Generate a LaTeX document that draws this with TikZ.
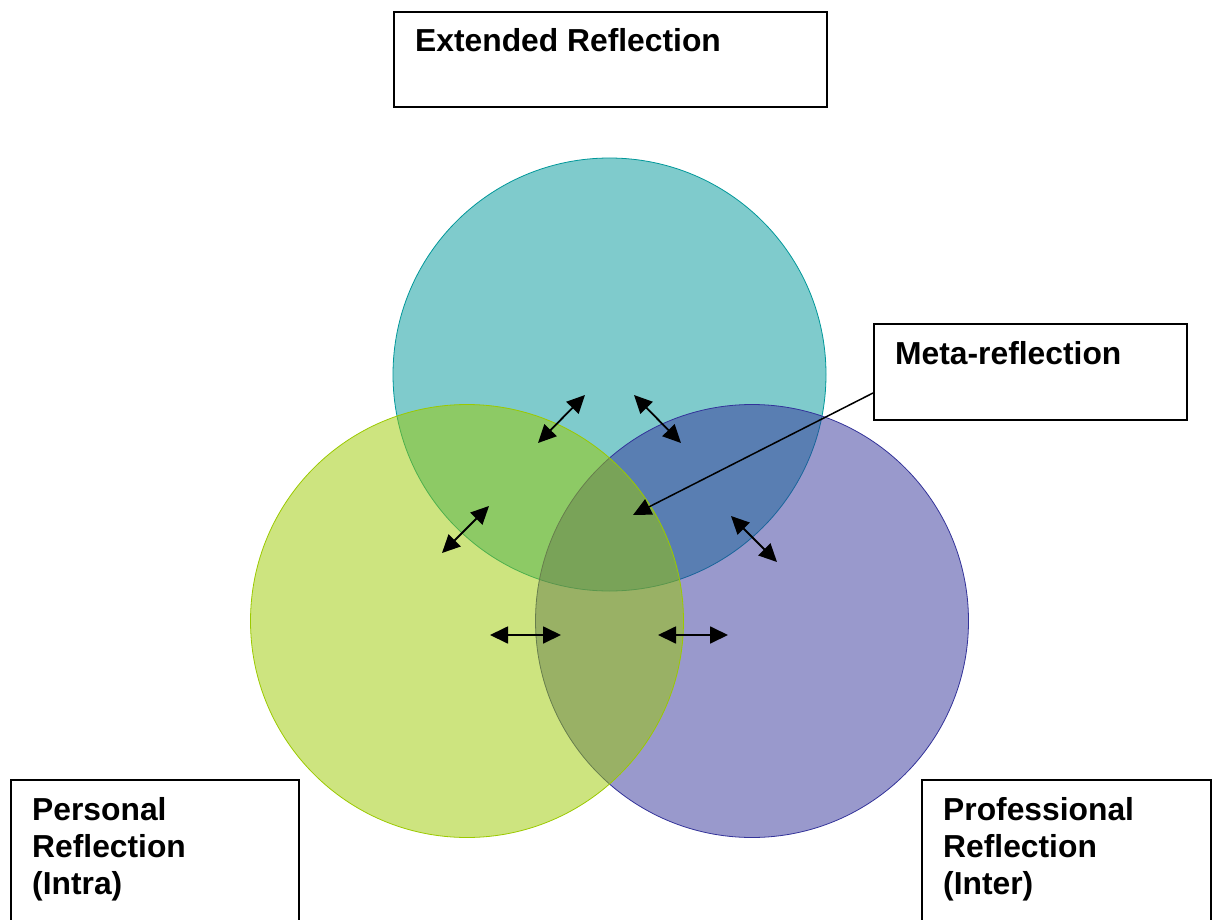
\documentclass[tikz,border=0pt]{standalone}
\usepackage{fontspec}
\setmainfont{Liberation Sans}
\usetikzlibrary{arrows.meta}
\definecolor{extcol}{RGB}{0,151,153}
\definecolor{perscol}{RGB}{155,201,0}
\definecolor{profcol}{RGB}{51,51,153}
\tikzset{
  ring/.style={circle, minimum size=433pt, inner sep=0pt, fill opacity=0.5, line width=0.8pt},
  labelbox/.style={draw, line width=1.6pt, inner sep=0pt, anchor=north west},
  boxtext/.style={anchor=base west, align=left, inner sep=0pt, xshift=22pt,
    font=\fontsize{31.8}{37}\selectfont\bfseries},
  twoway/.style={{Triangle[length=18pt,width=17pt]}-{Triangle[length=18pt,width=17pt]}, line width=1.8pt},
}
\begin{document}
\begin{tikzpicture}[x=1pt, y=-1pt]
    \useasboundingbox (0,0) rectangle (1217,920);

    % Circles
    \node[ring, fill=extcol, draw=extcol] (extended) at (609.5,374.5) {};
    \node[ring, fill=profcol, draw=profcol] (professional) at (752,621) {};
    \node[ring, fill=perscol, draw=perscol] (personal) at (467,621) {};

    % Label boxes
    \node[labelbox, minimum width=433pt, minimum height=95pt] (extbox) at (393,11) {};
    \node[boxtext, yshift=-41pt] (exttext) at (extbox.north west) {Extended Reflection};

    \node[labelbox, minimum width=313pt, minimum height=96pt] (metabox) at (873,323) {};
    \node[boxtext, yshift=-41pt] (metatext) at (metabox.north west) {Meta-reflection};

    \node[labelbox, minimum width=288pt, minimum height=170pt] (persbox) at (10,779) {};
    \node[boxtext, yshift=-115pt] (perstext) at (persbox.north west) {Personal\\Reflection\\(Intra)};

    \node[labelbox, minimum width=289pt, minimum height=170pt] (profbox) at (921,779) {};
    \node[boxtext, yshift=-115pt] (proftext) at (profbox.north west) {Professional\\Reflection\\(Inter)};

    % Arrow ends
    \coordinate (a1) at (538,443);  \coordinate (b1) at (585,395);
    \coordinate (a2) at (634,395);  \coordinate (b2) at (681,443);
    \coordinate (a3) at (442,553);  \coordinate (b3) at (489,506);
    \coordinate (a4) at (731,516);  \coordinate (b4) at (777,562);
    \coordinate (a5) at (490,635);  \coordinate (b5) at (561,635);
    \coordinate (a6) at (658,635);  \coordinate (b6) at (728,635);
    \coordinate (metafoot) at (873,393);
    \coordinate (metatip) at (633,515);

    % Arrows
    \draw[twoway] (a1) -- (b1);
    \draw[twoway] (a2) -- (b2);
    \draw[twoway] (a3) -- (b3);
    \draw[twoway] (a4) -- (b4);
    \draw[twoway] (a5) -- (b5);
    \draw[twoway] (a6) -- (b6);
    \draw[-{Triangle[length=18pt,width=17pt]}, line width=1.5pt] (metafoot) -- (metatip);
\end{tikzpicture}
\end{document}
